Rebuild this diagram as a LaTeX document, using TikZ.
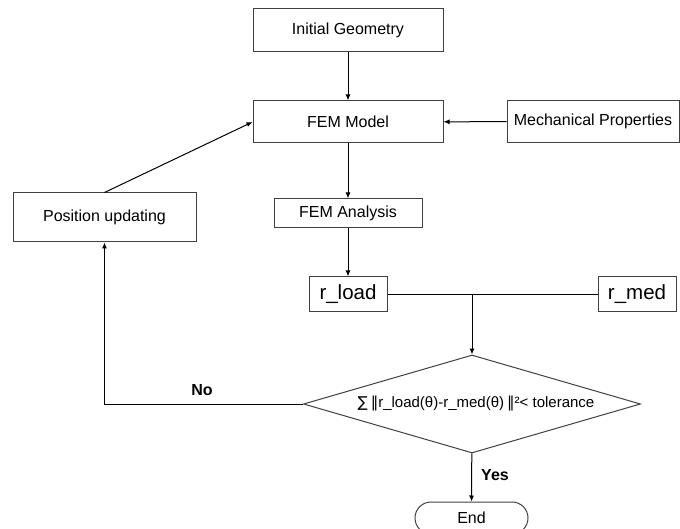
\documentclass[tikz,border=0pt]{standalone}
\usepackage{fontspec}
\setmainfont{Liberation Sans}
\newfontfamily\symfont{DejaVu Sans}
\usepackage{tikz}
\usetikzlibrary{arrows.meta,shapes.geometric,shapes.misc}
\tikzset{>={Latex[length=6pt,width=5pt]}}

\begin{document}
\begin{tikzpicture}[x=1pt,y=-1pt,line width=1pt,
		font=\fontsize{16}{19}\selectfont,
		box/.style={rectangle, draw=black!75, inner sep=0pt},
		big/.style={rectangle, draw=black!75, inner sep=0pt, font=\fontsize{20.5}{24}\selectfont},
		test/.style={diamond, draw=black!75, inner sep=0pt, aspect=3.44, minimum width=337pt, minimum height=98pt, font=\fontsize{15}{18}\selectfont},
		stop/.style={rounded rectangle, draw=black!75, inner sep=0pt, minimum width=113pt, minimum height=32pt},
		lbl/.style={font=\fontsize{16}{19}\selectfont\bfseries}]
		\useasboundingbox (0,0) rectangle (680,529);
		\node[box, minimum width=190pt, minimum height=43pt] (1) at (348,30.5) {Initial Geometry};
		\node[box, minimum width=190pt, minimum height=42pt] (2) at (348,122) {FEM Model};
		\node[box, minimum width=172pt, minimum height=42pt] (3) at (593,121.5) {Mechanical Properties};
		\node[box, minimum width=183pt, minimum height=49pt] (4) at (104.5,217.5) {Position updating};
		\node[box, minimum width=148pt, minimum height=29pt] (5) at (348,213.5) {FEM Analysis};
		\node[big, minimum width=78pt, minimum height=35pt] (6) at (348,294.5) {r\_load};
		\node[big, minimum width=78pt, minimum height=35pt] (7) at (637,294.5) {r\_med};
		\node[test] (8) at (472,404) {\hspace{8pt}{\symfont∑\kern3pt‖}r\_load(θ)-r\_med(θ)\kern3pt{\symfont‖}²< tolerance};
		\node[stop] (9) at (471.5,518) {End};
		\coordinate (10) at (472,294.5);
		\node[lbl] (11) at (495,475) {Yes};
		\node[lbl] (12) at (202,390) {No};
		
		\path (1) edge[->] (2);
		\path (3) edge[->] (2);
		\path (4.north) edge[->] (2.west);
		\path (2) edge[->] (5);
		\path (5) edge[->] (6);
		\path (6) edge (7);
		\path (10) edge[->] (8);
		\path (8) edge[->] (9);
		\draw[->] (8) -| (4);
		
	\end{tikzpicture}
\end{document}
